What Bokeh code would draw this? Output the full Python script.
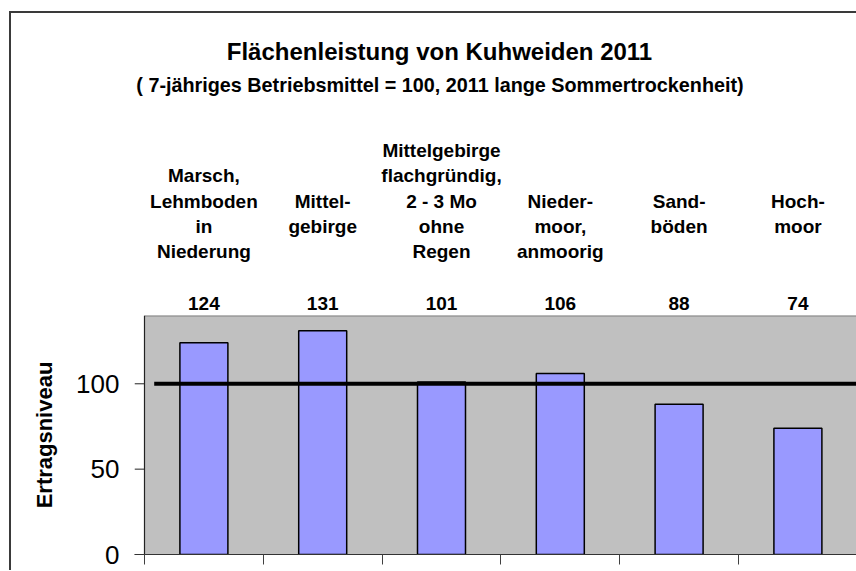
from bokeh.plotting import figure
from bokeh.layouts import column
from bokeh.models import Range1d, FixedTicker
from bokeh.core.properties import value
from bokeh.embed import file_html
from bokeh.resources import INLINE

# ---------------- data ----------------
title_text = "Flächenleistung von Kuhweiden 2011"
subtitle_text = "( 7-jähriges Betriebsmittel = 100, 2011 lange Sommertrockenheit)"
categories = [
    "Marsch,\nLehmboden\nin\nNiederung",
    "Mittel-\ngebirge",
    "Mittelgebirge\nflachgründig,\n2 - 3 Mo\nohne\nRegen",
    "Nieder-\nmoor,\nanmoorig",
    "Sand-\nböden",
    "Hoch-\nmoor",
]
values = [124, 131, 101, 106, 88, 74]
reference_level = 100
y_ticks = [0, 50, 100]
y_axis_max = 140
y_label = "Ertragsniveau"

# ---------------- layout (picture pixel geometry) ----------------
FONT = "Liberation Sans"
PIC_W = 856
SHIFT = 2                      # chart content lifted a little so the "0" label fits
BORDER = 2
MARGIN_LEFT, MARGIN_TOP = 9, 11
ORIGIN_X = MARGIN_LEFT + BORDER
ORIGIN_Y = MARGIN_TOP + BORDER
W = PIC_W - ORIGIN_X
FRAME_LEFT_IMG = 134           # frame starts 10 px left of the value axis line
AXIS_X_IMG = 144               # value axis / plot-area left edge
PX_PER_CAT = 118.8
PX_PER_UNIT = 1.705
REF_PLOT_TOP = 317             # reference y of plot-area top
BOTTOM_PAD = 16

plot_h = round(y_axis_max * PX_PER_UNIT)
Hb = plot_h + BOTTOM_PAD
Ht = (REF_PLOT_TOP - SHIFT) - ORIGIN_Y


def xdata(img_x):
    return (img_x - AXIS_X_IMG) / PX_PER_CAT


def ytop(ref_y):
    return REF_PLOT_TOP - ref_y


x_range = Range1d(xdata(FRAME_LEFT_IMG), xdata(PIC_W))
n = len(categories)
xs = [i + 0.5 for i in range(n)]

# ---------------- header figure ----------------
top = figure(width=W, height=Ht, x_range=x_range, y_range=Range1d(0, Ht),
             x_axis_location=None, y_axis_location=None,
             min_border=0, outline_line_color=None,
             background_fill_color="white", border_fill_color="white",
             toolbar_location=None, output_backend="svg")
top.grid.visible = False

common = dict(text_align="center", text_baseline="alphabetic",
              text_font=value(FONT), text_font_style="bold", text_color="black")

top.text(x=[xdata(439)], y=[ytop(52.7)], text=[title_text],
         text_font_size=value("24px"), **common)
top.text(x=[xdata(439.5)], y=[ytop(86.7)], text=[subtitle_text],
         text_font_size=value("19.8px"), **common)

first_slot = [1, 2, 0, 2, 2, 2]
lx, ly, lt = [], [], []
for i, cat in enumerate(categories):
    for j, line in enumerate(cat.split("\n")):
        lx.append(xs[i])
        ly.append(ytop(152 + 25.33 * (first_slot[i] + j)))
        lt.append(line)
top.text(x=lx, y=ly, text=lt, text_font_size=value("19px"), **common)

top.text(x=xs, y=[ytop(305)] * n, text=[str(v) for v in values],
         text_font_size=value("19px"), **common)

# ---------------- plot figure ----------------
p = figure(width=W, height=Hb, x_range=x_range, y_range=Range1d(0, y_axis_max),
           min_border_left=FRAME_LEFT_IMG - ORIGIN_X, min_border_right=0,
           min_border_top=0, min_border_bottom=BOTTOM_PAD,
           background_fill_color="white", border_fill_color="white",
           outline_line_color=None, toolbar_location=None, output_backend="svg")
p.grid.visible = False

x_far = x_range.end + 1
# plot area
p.quad(left=[0], right=[x_far], bottom=[0], top=[y_axis_max],
       fill_color="#C0C0C0", line_color=None)
p.line(x=[0, x_far], y=[y_axis_max, y_axis_max], line_color="#808080", line_width=2)

# bars
p.vbar(x=xs, top=values, width=0.404, bottom=0,
       fill_color="#9999FF", line_color="black", line_width=1.5)

# reference level
p.line(x=[xdata(153.7), x_far], y=[reference_level, reference_level],
       line_color="black", line_width=4)

# value axis line and its outward ticks (axis sits at the plot-area edge)
p.line(x=[0, 0], y=[0, y_axis_max], line_color="#222222", line_width=1.2)
p.segment(x0=[x_range.start] * len(y_ticks), y0=y_ticks,
          x1=[0] * len(y_ticks), y1=y_ticks, line_color="#222222", line_width=1)

# x axis: category boundary ticks
xa = p.xaxis[0]
xa.ticker = FixedTicker(ticks=list(range(n + 1)))
xa.major_tick_out = 10
xa.major_tick_in = 0
xa.minor_tick_out = 0
xa.minor_tick_in = 0
xa.major_label_text_font_size = "1px"
xa.major_label_text_color = None
xa.major_label_standoff = 0
xa.axis_line_color = "#333333"
xa.major_tick_line_color = "#404040"

# y axis: labels + title
ya = p.yaxis[0]
ya.ticker = FixedTicker(ticks=y_ticks)
ya.axis_line_color = None
ya.major_tick_line_color = None
ya.minor_tick_line_color = None
ya.major_tick_out = 0
ya.major_tick_in = 0
ya.minor_tick_out = 0
ya.minor_tick_in = 0
ya.major_label_standoff = 15
ya.major_label_text_font = FONT
ya.major_label_text_font_size = "26px"
ya.major_label_text_color = "black"
ya.axis_label = y_label
ya.axis_label_text_font = FONT
ya.axis_label_text_font_style = "bold"
ya.axis_label_text_font_size = "22px"
ya.axis_label_text_color = "black"
ya.axis_label_standoff = 16

layout = column(top, p, spacing=0,
                styles={"margin-left": f"{MARGIN_LEFT}px",
                        "margin-top": f"{MARGIN_TOP}px",
                        "border-left": f"{BORDER}px solid #3a3a3a",
                        "border-top": f"{BORDER}px solid #3a3a3a"})

open("out.html", "w").write(file_html(layout, INLINE))
